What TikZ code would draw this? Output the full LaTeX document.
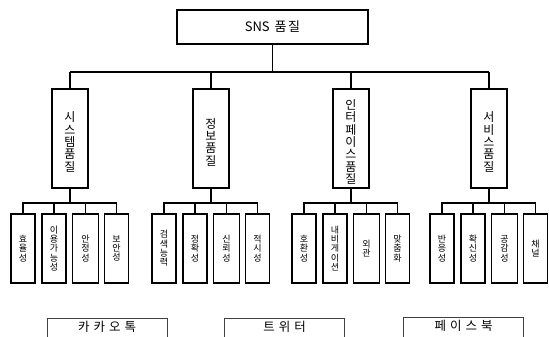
\documentclass[tikz,border=0pt]{standalone}
\usepackage{fontspec}
\setmainfont{Noto Sans CJK KR}
\newcommand\sgroup[7]{%
  \node[midbox] (m#1) at (#2,138.5) {};
  \node[midtext] (m#1t) at ([yshift=-3.5pt]m#1.center) {#3};
  \node[leafbox, minimum width=24pt] (l#1a) at (#2-47,248.5) {#4};
  \node[leafbox, minimum width=24pt] (l#1b) at (#2-16,248.5) {#5};
  \node[leafbox, minimum width=26pt] (l#1c) at (#2+15.5,248.5) {#6};
  \node[leafbox, minimum width=24pt] (l#1d) at (#2+46.5,248.5) {#7};
  \draw[conn] (m#1.north) -- (m#1.north |- bar);
  \draw[conn] (m#1.south) -- (m#1.south |- lbar);
  \draw[conn] (l#1a.north) -- (l#1a.north |- lbar) -| (l#1d.north);
  \draw[conn] (l#1b.north) -- (l#1b.north |- lbar);
  \draw[conn] (l#1c.north) -- (l#1c.north |- lbar);
}
\begin{document}
\begin{tikzpicture}[x=1pt,y=-1pt,
  topbox/.style={draw, line width=1.1pt, minimum width=191pt, minimum height=34pt, inner sep=0pt,
    font=\fontsize{13}{14}\selectfont},
  midbox/.style={draw, line width=1.1pt, minimum width=36pt, minimum height=99pt, inner sep=0pt},
  midtext/.style={inner sep=0pt, align=center, font=\fontsize{12}{12.3}\selectfont},
  leafbox/.style={draw, line width=1.5pt, minimum height=69pt, inner sep=0pt,
    align=center, font=\fontsize{9}{9.4}\selectfont},
  botbox/.style={draw, line width=0.8pt, draw=black!75, anchor=north, minimum width=120pt,
    inner ysep=3pt, text height=10pt, text depth=16pt, font=\fontsize{12.5}{14}\selectfont},
  conn/.style={line width=1.1pt}]
\useasboundingbox (0,0) rectangle (549,337);
\coordinate (bar) at (0,72);
\coordinate (lbar) at (0,203);
\node[topbox] (top) at (272.5,27) {SNS\hspace{5pt}품\hspace{1.5pt}질};
\sgroup{1}{70}{시\\스\\템\\품\\질}{효\\율\\성}{이\\용\\가\\능\\성}{안\\정\\성}{보\\안\\성}
\sgroup{2}{211}{정\\보\\품\\질}{검\\색\\능\\력}{정\\확\\성}{신\\뢰\\성}{적\\시\\성}
\sgroup{3}{351}{인\\터\\페\\이\\스\\품\\질}{호\\환\\성}{내\\비\\게\\이\\션}{외\\관}{맞\\춤\\화}
\sgroup{4}{489}{서\\비\\스\\품\\질}{반\\응\\성}{확\\신\\성}{공\\감\\성}{채\\널}
\draw[conn] (top.south) -- (top.south |- bar);
\draw[conn] (m1.north |- bar) -- (m4.north |- bar);
\node[botbox] (kakao) at (107,318) {카\hspace{4pt}카\hspace{4pt}오\hspace{4pt}톡};
\node[botbox] (twitter) at (284.5,318) {트\hspace{4pt}위\hspace{4pt}터};
\node[botbox] (facebook) at (463.5,317) {페\hspace{4pt}이\hspace{4pt}스\hspace{4pt}북};
\end{tikzpicture}
\end{document}
